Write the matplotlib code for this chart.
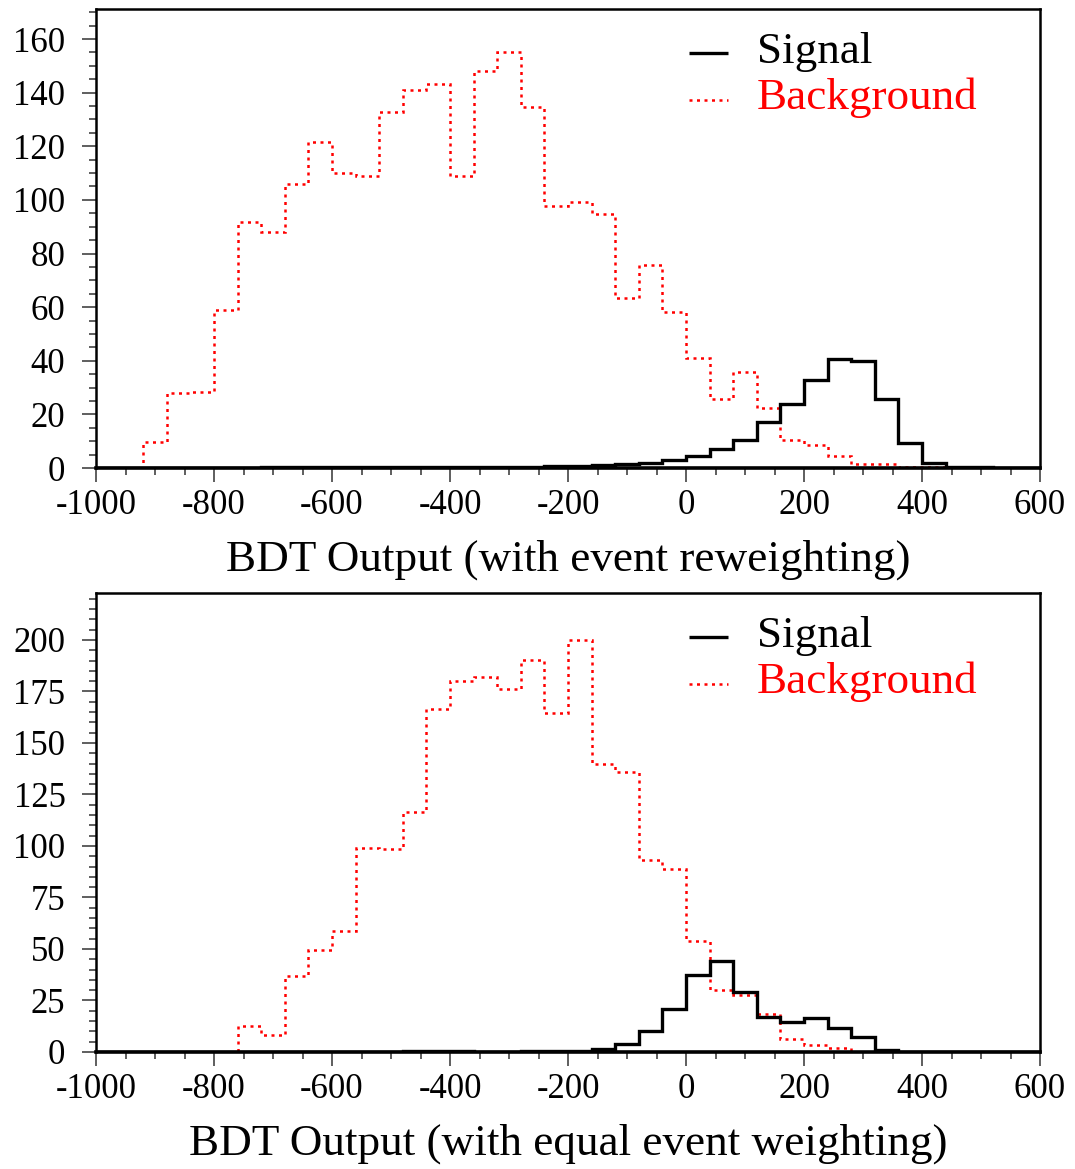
import numpy as np
import matplotlib
matplotlib.use("Agg")
import matplotlib.pyplot as plt
from matplotlib.ticker import MultipleLocator

# ---- data ----
bin_lo, bin_hi, bin_w = -1000, 600, 40

sig_reweight = [0, 0, 0, 0, 0, 0.1, 0.1, 0.2, 0.2, 0.2,
                0.2, 0.2, 0.3, 0.3, 0.3, 0.3, 0.3, 0.5, 0.5, 0.6,
                0.8, 1.0, 1.6, 2.0, 2.9, 4.5, 7.0, 10.6, 17.2, 24.0,
                32.8, 40.6, 39.9, 25.6, 9.3, 1.9, 0.5, 0.3, 0.1, 0]
bkg_reweight = [0, 0, 9.6, 27.8, 28.4, 59, 91.9, 87.9, 106, 121.5,
                110, 109, 132.7, 141, 143.3, 109, 148, 155, 134.7, 97.7,
                99.4, 94.8, 63.3, 75.8, 58.3, 40.9, 25.9, 35.9, 22.2, 10.4,
                8.5, 4.4, 1.6, 1.4, 0.5, 0.5, 0, 0, 0, 0]

sig_equal = [0, 0, 0, 0, 0, 0, 0, 0, 0, 0,
             0, 0, 0.1, 0.3, 0.3, 0.3, 0.2, 0.2, 0.3, 0.3,
             0.5, 1.3, 4.0, 10.0, 21.0, 37.6, 44.4, 29.0, 16.8, 14.4,
             16.6, 11.5, 7.3, 0.8, 0.2, 0, 0, 0, 0, 0]
bkg_equal = [0, 0, 0, 0, 0, 0, 12.8, 8.4, 36.8, 49.6,
             58.7, 99, 98.5, 116.7, 166.3, 180, 182, 176, 190.3, 164.6,
             199.9, 140, 135.9, 93.2, 88.8, 53.8, 29.9, 27.9, 18.6, 6.5,
             3.2, 2.1, 0.2, 0.2, 0, 0, 0, 0, 0, 0]

xlabels = ["BDT Output (with event reweighting)",
           "BDT Output (with equal event weighting)"]
legend_labels = ["Signal", "Background"]

edges = np.arange(bin_lo, bin_hi + 1, bin_w)

plt.rcParams['font.family'] = ['Liberation Serif', 'DejaVu Serif']
plt.rcParams['axes.unicode_minus'] = False

fig = plt.figure(figsize=(10.75, 11.69), dpi=100)

panels = [
    dict(rect=[96/1075, 1-468/1169, 944/1075, 459/1169], sig=sig_reweight, bkg=bkg_reweight,
         ymax=171.2, major=20, minor=5, xlabel=xlabels[0]),
    dict(rect=[96/1075, 1-1052/1169, 944/1075, 459/1169], sig=sig_equal, bkg=bkg_equal,
         ymax=222.8, major=25, minor=5, xlabel=xlabels[1]),
]

for p in panels:
    ax = fig.add_axes(p['rect'])
    ax.stairs(p['bkg'], edges, baseline=0, color='#ff0000', linewidth=1.8,
              linestyle=(0, (1.2, 1.8)), zorder=2)
    ax.stairs(p['sig'], edges, baseline=0, color='black', linewidth=2.4, zorder=3)
    ax.set_xlim(bin_lo, bin_hi)
    ax.set_ylim(0, p['ymax'])

    ax.xaxis.set_major_locator(MultipleLocator(200))
    ax.xaxis.set_minor_locator(MultipleLocator(50))
    ax.yaxis.set_major_locator(MultipleLocator(p['major']))
    ax.yaxis.set_minor_locator(MultipleLocator(p['minor']))
    ax.tick_params(axis='both', which='major', direction='out', length=10, width=1.1,
                   labelsize=25, color='#333333')
    ax.tick_params(axis='both', which='minor', direction='out', length=5, width=1.1,
                   color='#333333')
    ax.tick_params(axis='x', which='major', pad=5)
    ax.tick_params(axis='y', which='major', pad=12)
    ax.tick_params(top=False, right=False, which='both')

    for s in ['top', 'right', 'left']:
        ax.spines[s].set_linewidth(1.8)
    ax.spines['bottom'].set_linewidth(2.6)

    ax.set_xlabel(p['xlabel'], fontsize=32.5, labelpad=13)

    # legend (manual, ROOT-like)
    ax.plot([0.628, 0.670], [0.904, 0.904], transform=ax.transAxes, color='black',
            linewidth=2.4, solid_capstyle='butt', clip_on=False)
    ax.plot([0.628, 0.670], [0.802, 0.802], transform=ax.transAxes, color='#ff0000',
            linewidth=1.8, linestyle=(0, (1.2, 1.8)), clip_on=False)
    ax.text(0.700, 0.906, legend_labels[0], transform=ax.transAxes, fontsize=32.5,
            color='black', va='center', ha='left')
    ax.text(0.700, 0.806, legend_labels[1], transform=ax.transAxes, fontsize=32.5,
            color='#ff0000', va='center', ha='left')

fig.savefig("out.png", dpi=100)
